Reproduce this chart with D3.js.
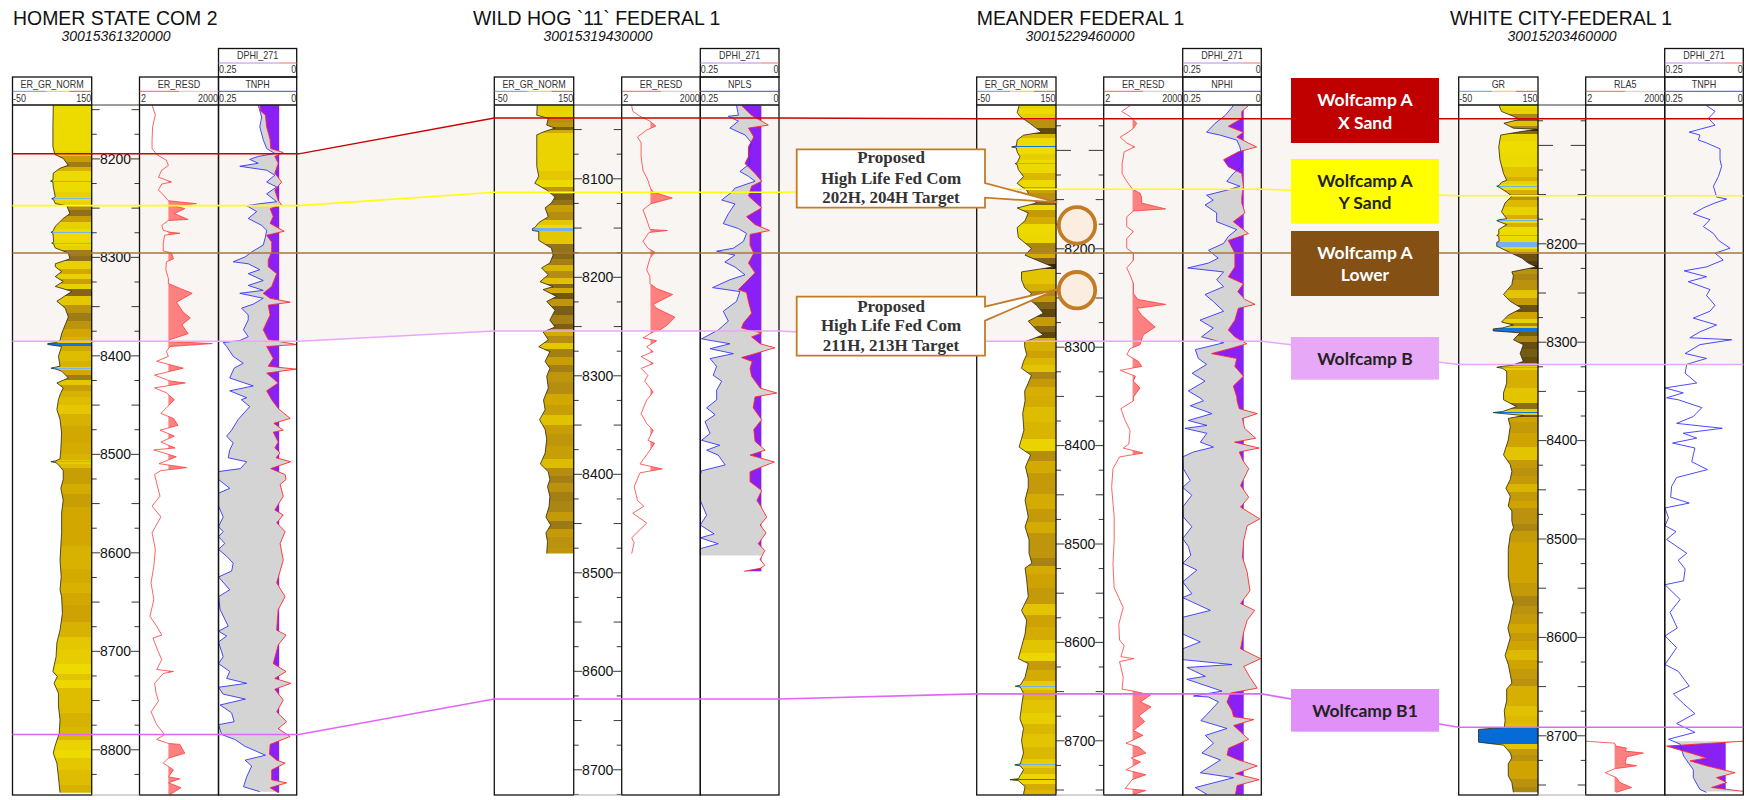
<!DOCTYPE html>
<html><head><meta charset="utf-8">
<script src="https://cdn.jsdelivr.net/npm/d3@7/dist/d3.min.js"></script>
<style>html,body{margin:0;padding:0;background:#fff}svg{display:block}text{font-family:"Liberation Sans",Arial,sans-serif}</style>
</head><body><div id="chart"></div>
<script>
// ---------- DATA (depth ft) ----------
const wellNames=["HOMER STATE COM 2","WILD HOG `11` FEDERAL 1","MEANDER FEDERAL 1","WHITE CITY-FEDERAL 1"];
const wellApis=["30015361320000","30015319430000","30015229460000","30015203460000"];
const grLabels=["ER_GR_NORM","ER_GR_NORM","ER_GR_NORM","GR"];
const resLabels=["ER_RESD","ER_RESD","ER_RESD","RLA5"];
const neuLabels=["TNPH","NPLS","NPHI","TNPH"];
const depLabel="DPHI_271";
const firstDepthLabel=[8200,8100,8200,8200];
const horizonNames=["Wolfcamp A X Sand","Wolfcamp A Y Sand","Wolfcamp A Lower","Wolfcamp B","Wolfcamp B1"];
const xSandTops=[8195.4,8038.8,8068.4,8073.5];
const ySandTops=[8248,8114.2,8140,8151.7];
const lowerTops=[8296,8175.8,8204.8,8209.8];
const bTops=[8385.6,8255,8294.4,8323.2];
const b1Tops=[8785,8628.6,8652.8,8691.8];

const homerGR=[[8146,53],[8168,52],[8188,52],[8196,57],[8200,78],[8207,91],[8210,70],[8215,53],[8222,52],[8223,46],[8224,52],[8229,53],[8239,58],[8240,54],[8241,49],[8242,54],[8246,58],[8248,87],[8256,95],[8261,78],[8269,58],[8274,52],[8275,47],[8276,52],[8280,53],[8285,54],[8286,49],[8287,54],[8291,58],[8296,91],[8302,95],[8307,58],[8310,58],[8315,74],[8320,58],[8325,78],[8330,58],[8335,100],[8345,62],[8352,83],[8361,91],[8369,83],[8378,74],[8385,70],[8387,60],[8388,39],[8389,39],[8391,74],[8401,66],[8411,70],[8412,58],[8413,47],[8414,60],[8416,74],[8423,91],[8428,62],[8433,78],[8440,70],[8445,66],[8455,62],[8465,70],[8479,74],[8496,72],[8505,70],[8507,60],[8508,47],[8509,60],[8511,66],[8517,78],[8526,78],[8535,72],[8547,78],[8560,74],[8580,74],[8608,70],[8625,73],[8638,70],[8645,74],[8662,76],[8679,70],[8692,62],[8706,60],[8721,52],[8726,63],[8733,55],[8743,66],[8756,66],[8770,70],[8784,68],[8797,57],[8804,53],[8814,62],[8828,66],[8844,70]];
const homerRES=[[8146,6],[8156,8],[8168,6.3],[8181,6],[8190,6],[8196,9],[8202,21],[8207,25],[8212,14],[8219,10.5],[8224,33],[8226,14],[8232,10.5],[8237,16],[8243,25],[8246,290],[8248,39],[8251,105],[8256,42],[8262,140],[8263,25],[8268,14],[8273,16],[8275,29],[8276,68],[8278,18],[8286,16],[8294,16],[8296,33],[8302,39],[8305,21],[8313,20],[8322,25],[8327,25],[8332,68],[8337,200],[8346,51],[8356,90],[8362,170],[8369,82],[8378,140],[8384,29],[8386,25],[8388,1160],[8391,29],[8396,21],[8401,25],[8406,9],[8413,92],[8420,7.4],[8426,29],[8428,110],[8433,7.5],[8438,21],[8445,42],[8459,13],[8464,39],[8471,58],[8476,12],[8482,42],[8488,13],[8494,45],[8496,7],[8503,50],[8510,11],[8514,124],[8517,13],[8521,7.5],[8530,9],[8543,12],[8553,6],[8564,13],[8580,6],[8597,8],[8614,7],[8631,5.5],[8648,7],[8665,5],[8675,9],[8684,14],[8687,6.5],[8697,9],[8709,14],[8719,9],[8721,39],[8723,16],[8733,7.5],[8743,8.5],[8751,10.5],[8762,5.5],[8775,9],[8785,18],[8790,9],[8794,25],[8795,68],[8804,105],[8809,25],[8814,16],[8821,39],[8828,25],[8830,68],[8834,25],[8839,75],[8846,29]];
const homerNEU=[[8146,.123],[8158,.112],[8168,.118],[8181,.107],[8190,.096],[8195,.07],[8198,.123],[8201,.15],[8205,.123],[8208,.182],[8212,.096],[8217,.07],[8224,.096],[8229,.064],[8236,.096],[8244,.064],[8246,.118],[8248,.16],[8254,.128],[8261,.155],[8268,.112],[8273,.096],[8280,.1],[8288,.107],[8295,.144],[8300,.165],[8305,.203],[8307,.155],[8313,.118],[8317,.155],[8324,.107],[8329,.155],[8334,.107],[8337,.182],[8342,.107],[8348,.139],[8352,.176],[8359,.155],[8364,.155],[8374,.17],[8381,.155],[8385,.182],[8387,.235],[8391,.224],[8401,.203],[8408,.171],[8413,.2],[8423,.214],[8431,.139],[8436,.214],[8443,.16],[8445,.177],[8452,.15],[8465,.187],[8476,.208],[8482,.224],[8489,.203],[8496,.214],[8504,.219],[8508,.16],[8515,.18],[8518,.25],[8526,.25],[8535,.214],[8540,.25],[8553,.25],[8564,.235],[8574,.25],[8579,.235],[8584,.25],[8591,.23],[8597,.25],[8604,.224],[8611,.203],[8619,.208],[8625,.25],[8638,.214],[8645,.25],[8658,.245],[8675,.219],[8680,.25],[8685,.224],[8691,.25],[8706,.235],[8713,.25],[8721,.214],[8728,.224],[8733,.16],[8737,.25],[8744,.235],[8749,.164],[8755,.245],[8763,.208],[8772,.2],[8775,.25],[8785,.24],[8790,.198],[8797,.165],[8806,.1],[8811,.165],[8817,.144],[8828,.16],[8838,.17],[8843,.118]];
const homerDEN=[[8146,.118],[8152,.115],[8156,.1],[8168,.096],[8181,.085],[8190,.083],[8194,.043],[8198,.07],[8205,.059],[8215,.07],[8224,.048],[8232,.07],[8243,.059],[8247,.048],[8251,.085],[8259,.075],[8266,.085],[8274,.04],[8278,.096],[8285,.08],[8295,.08],[8303,.091],[8310,.091],[8317,.064],[8330,.08],[8337,.107],[8342,.085],[8346,.021],[8349,.091],[8359,.085],[8374,.107],[8384,.091],[8389,0],[8391,.096],[8403,.075],[8411,.091],[8414,.002],[8418,.096],[8428,.059],[8436,.096],[8445,.08],[8454,.059],[8464,.021],[8469,.073],[8476,.043],[8478,.075],[8488,.059],[8494,.07],[8499,.053],[8504,.066],[8508,.019],[8515,.083],[8521,.037],[8526,.034],[8531,.053],[8543,.043],[8557,.07],[8562,.043],[8570,.064],[8579,.037],[8591,.053],[8608,.043],[8631,.064],[8645,.037],[8658,.059],[8679,.064],[8684,.034],[8694,.059],[8713,.075],[8721,.034],[8728,.07],[8733,.019],[8739,.07],[8750,.043],[8762,.064],[8772,.032],[8779,.059],[8787,.021],[8795,.085],[8805,.087],[8811,.064],[8814,.037],[8821,.08],[8831,.08],[8834,.032],[8839,.085],[8844,.059]];

const wildGR=[[8026,58],[8036,57],[8039,86],[8046,82],[8049,103],[8053,73],[8056,57],[8075,57],[8088,57],[8098,62],[8105,52],[8112,82],[8119,103],[8125,94],[8130,78],[8139,86],[8145,62],[8150,52],[8151,46],[8153,46],[8154,62],[8163,62],[8171,94],[8178,98],[8186,90],[8191,69],[8198,86],[8205,65],[8210,98],[8213,73],[8220,107],[8225,82],[8234,103],[8244,90],[8251,103],[8256,73],[8264,86],[8271,62],[8276,90],[8286,78],[8293,90],[8301,82],[8313,86],[8325,74],[8335,78],[8345,64],[8355,78],[8365,82],[8379,78],[8390,66],[8398,86],[8406,90],[8413,84],[8423,90],[8433,88],[8444,80],[8452,92],[8460,80],[8469,84],[8481,82]];
const wildRES=[[8026,4.8],[8032,5.3],[8037,10],[8042,24],[8047,40],[8051,18],[8058,8],[8064,11],[8078,11],[8092,13],[8102,20],[8110,25],[8114,32],[8120,170],[8126,25],[8132,13],[8142,18],[8152,24],[8153,110],[8155,22],[8164,13],[8171,20],[8175,37],[8181,24],[8193,18],[8200,24],[8207,24],[8212,43],[8218,175],[8228,32],[8232,43],[8241,215],[8249,110],[8254,58],[8256,32],[8262,13],[8265,43],[8271,18],[8276,32],[8281,11],[8288,32],[8293,11],[8300,20],[8306,15],[8317,32],[8325,18],[8339,11],[8349,18],[8356,32],[8366,20],[8369,36],[8379,20],[8390,10],[8395,70],[8399,10],[8413,6],[8427,8],[8433,14],[8440,5.3],[8450,18],[8465,4.8],[8470,6],[8481,4.8]];
const wildNEU=[[8026,.135],[8036,.129],[8037,.161],[8042,.129],[8049,.156],[8056,.108],[8064,.087],[8075,.097],[8085,.092],[8093,.124],[8098,.097],[8103,.076],[8110,.14],[8114,.15],[8122,.182],[8126,.14],[8136,.161],[8146,.177],[8151,.129],[8156,.103],[8164,.113],[8171,.145],[8174,.198],[8178,.14],[8185,.172],[8190,.14],[8198,.108],[8203,.156],[8211,.211],[8215,.124],[8225,.135],[8235,.177],[8245,.161],[8254,.193],[8263,.246],[8268,.156],[8273,.219],[8278,.145],[8283,.219],[8291,.198],[8300,.209],[8306,.182],[8315,.198],[8325,.198],[8333,.23],[8340,.203],[8347,.235],[8359,.219],[8366,.246],[8371,.188],[8376,.23],[8381,.193],[8391,.171],[8397,.246],[8401,.25],[8427,.25],[8442,.23],[8452,.25],[8461,.206],[8465,.25],[8471,.193],[8476,.25],[8483,.25]];
const wildDEN=[[8026,.119],[8036,.087],[8046,.034],[8049,.097],[8058,.08],[8068,.097],[8078,.097],[8085,.108],[8095,.076],[8103,.055],[8108,.087],[8118,.097],[8130,.055],[8139,.103],[8147,.076],[8153,.03],[8157,.092],[8168,.092],[8176,.08],[8186,.097],[8196,.076],[8213,.129],[8216,.103],[8225,.097],[8237,.087],[8247,.113],[8252,.119],[8257,.055],[8261,.087],[8268,.06],[8272,.013],[8278,.076],[8282,.119],[8286,.085],[8293,.092],[8301,.087],[8313,.06],[8318,.007],[8322,.076],[8333,.082],[8345,.055],[8355,.08],[8367,.076],[8376,.044],[8381,.092],[8388,.015],[8393,.055],[8398,.092],[8408,.092],[8417,.055],[8427,.07],[8433,.058],[8444,.039],[8452,.06],[8460,.041],[8471,.066],[8478,.045],[8487,.06],[8493,.045],[8496,.06],[8499,.111]];

const meanderGR=[[8055,57],[8062,52],[8066,59],[8073,84],[8082,114],[8085,68],[8090,52],[8096,50],[8097,38],[8098,50],[8102,52],[8107,59],[8113,52],[8114,47],[8115,52],[8120,55],[8127,68],[8134,52],[8141,76],[8147,84],[8154,101],[8159,52],[8164,80],[8172,72],[8179,52],[8189,55],[8200,88],[8207,72],[8212,101],[8219,143],[8224,63],[8232,63],[8240,71],[8246,88],[8251,80],[8258,101],[8266,118],[8274,80],[8283,101],[8288,118],[8295,71],[8300,71],[8308,76],[8315,68],[8322,63],[8329,88],[8337,80],[8345,71],[8355,72],[8368,66],[8385,69],[8402,57],[8410,86],[8422,73],[8434,80],[8443,80],[8456,72],[8473,80],[8483,72],[8496,82],[8510,82],[8520,89],[8525,72],[8537,76],[8554,80],[8568,63],[8578,76],[8592,72],[8605,63],[8617,55],[8622,80],[8636,72],[8644,60],[8645,47],[8646,60],[8652,68],[8666,63],[8678,59],[8688,68],[8700,63],[8713,68],[8724,60],[8725,46],[8726,60],[8730,68],[8739,55],[8740,34],[8741,55],[8747,72],[8755,68]];
const meanderRES=[[8055,20],[8061,9.6],[8066,20],[8073,36],[8078,27],[8082,17],[8087,8.5],[8093,15],[8097,30],[8102,12],[8114,10],[8124,10],[8132,15],[8140,25],[8144,48],[8148,55],[8154,55],[8160,450],[8162,27],[8168,15],[8178,15],[8183,27],[8190,15],[8200,15],[8205,27],[8212,27],[8220,15],[8227,20],[8236,27],[8246,27],[8252,40],[8257,450],[8261,36],[8268,55],[8280,180],[8288,63],[8298,48],[8302,20],[8308,15],[8315,42],[8320,55],[8324,8.5],[8330,32],[8335,27],[8342,48],[8351,27],[8355,27],[8363,9],[8375,13],[8385,20],[8399,18],[8403,11],[8408,62],[8412,8],[8424,4.5],[8443,4],[8473,5],[8497,5],[8521,4.5],[8545,5],[8565,11],[8582,7.5],[8598,8],[8604,12],[8615,9],[8617,28],[8620,8],[8636,11],[8648,10],[8650,27],[8654,120],[8661,50],[8666,125],[8675,44],[8681,72],[8690,27],[8695,62],[8703,14],[8707,44],[8713,80],[8718,22],[8722,50],[8730,14],[8735,80],[8740,24],[8749,13],[8751,80],[8755,27]];
const meanderNEU=[[8055,.089],[8065,.115],[8073,.147],[8082,.174],[8085,.131],[8090,.078],[8097,.068],[8107,.062],[8117,.062],[8124,.089],[8132,.11],[8137,.068],[8141,.11],[8146,.174],[8151,.153],[8156,.179],[8164,.142],[8173,.142],[8181,.078],[8188,.105],[8195,.12],[8202,.168],[8210,.137],[8215,.168],[8220,.234],[8224,.12],[8232,.142],[8239,.12],[8247,.179],[8254,.153],[8264,.12],[8273,.195],[8281,.153],[8290,.19],[8296,.12],[8303,.21],[8312,.2],[8318,.174],[8327,.22],[8335,.179],[8345,.232],[8352,.195],[8355,.184],[8360,.226],[8368,.157],[8375,.232],[8380,.173],[8383,.243],[8388,.173],[8397,.194],[8402,.152],[8407,.216],[8412,.25],[8424,.248],[8436,.226],[8443,.25],[8451,.221],[8463,.25],[8473,.248],[8483,.221],[8495,.25],[8503,.232],[8512,.224],[8520,.25],[8527,.205],[8539,.25],[8551,.221],[8555,.25],[8568,.162],[8575,.25],[8592,.25],[8600,.194],[8607,.25],[8618,.25],[8623,.093],[8626,.237],[8635,.178],[8638,.237],[8650,.125],[8655,.216],[8656,.168],[8661,.136],[8670,.162],[8680,.192],[8688,.109],[8695,.178],[8703,.152],[8713,.189],[8720,.13],[8733,.194],[8738,.088],[8748,.21],[8755,.173]];
const meanderDEN=[[8055,.041],[8061,.062],[8068,.062],[8076,.105],[8082,.057],[8087,.078],[8093,.041],[8097,.015],[8102,.073],[8110,.12],[8117,.105],[8124,.062],[8137,.057],[8148,.062],[8154,.062],[8164,.052],[8173,.089],[8185,.041],[8192,.105],[8205,.084],[8219,.084],[8229,.105],[8236,.057],[8244,.075],[8252,.052],[8257,.02],[8261,.073],[8273,.084],[8283,.105],[8290,.084],[8297,.046],[8302,.1],[8307,.158],[8312,.078],[8320,.084],[8330,.057],[8340,.089],[8351,.078],[8355,.077],[8363,.07],[8368,.013],[8373,.06],[8383,.053],[8393,.018],[8397,.085],[8403,.007],[8407,.07],[8416,.058],[8424,.04],[8441,.066],[8453,.04],[8463,.066],[8475,.005],[8482,.045],[8497,.056],[8514,.06],[8529,.045],[8548,.036],[8561,.066],[8568,.021],[8578,.045],[8590,.056],[8607,.066],[8617,.002],[8625,.056],[8637,.034],[8647,.013],[8652,.098],[8661,.109],[8670,.093],[8676,.088],[8679,.024],[8685,.088],[8699,.04],[8708,.104],[8715,.109],[8720,.072],[8726,.013],[8734,.082],[8740,.007],[8746,.077],[8755,.082]];

const whiteGR=[[8060,52],[8066,58],[8071,88],[8074,104],[8078,64],[8083,88],[8084,146],[8087,100],[8090,56],[8102,51],[8115,54],[8129,63],[8136,71],[8138,58],[8141,52],[8142,46],[8143,52],[8148,71],[8152,84],[8159,67],[8168,58],[8175,71],[8176,52],[8177,46],[8178,52],[8181,71],[8186,51],[8191,51],[8192,46],[8193,51],[8198,52],[8199,46],[8203,46],[8204,52],[8207,67],[8215,109],[8220,125],[8224,146],[8229,84],[8233,88],[8242,84],[8252,63],[8259,80],[8266,109],[8273,75],[8280,58],[8283,88],[8286,60],[8287,37],[8289,37],[8291,105],[8298,88],[8303,113],[8312,105],[8320,113],[8324,84],[8325,60],[8326,46],[8327,60],[8330,71],[8342,71],[8352,63],[8359,63],[8366,96],[8371,60],[8372,37],[8373,60],[8375,113],[8378,75],[8386,80],[8400,75],[8415,63],[8425,80],[8432,84],[8440,80],[8449,69],[8457,80],[8467,75],[8472,84],[8482,84],[8489,88],[8496,80],[8511,75],[8524,75],[8538,75],[8552,80],[8565,88],[8572,84],[8582,80],[8591,74],[8601,80],[8608,75],[8619,67],[8628,75],[8638,80],[8647,84],[8653,71],[8665,71],[8675,65],[8685,67],[8692,65],[8694,0],[8707,0],[8710,63],[8718,80],[8723,84],[8729,75],[8741,75],[8748,84],[8758,88]];
const whiteRES=[[8706,2],[8708,25],[8711,28],[8713,71],[8716,63],[8718,310],[8722,71],[8729,63],[8731,170],[8734,25],[8738,11],[8743,29],[8748,40],[8753,110],[8758,29]];
const whiteNEU=[[8060,.117],[8066,.09],[8073,.111],[8080,.09],[8087,.172],[8090,.138],[8095,.143],[8098,.117],[8104,.074],[8115,.074],[8122,.069],[8132,.079],[8142,.095],[8153,.085],[8155,.053],[8159,.09],[8164,.127],[8170,.159],[8176,.106],[8183,.127],[8190,.095],[8197,.079],[8205,.042],[8210,.09],[8217,.064],[8224,.117],[8228,.188],[8234,.117],[8239,.175],[8247,.106],[8253,.117],[8263,.09],[8269,.106],[8276,.159],[8283,.085],[8290,.138],[8296,.17],[8298,.037],[8303,.138],[8312,.185],[8317,.117],[8323,.18],[8332,.185],[8342,.148],[8347,.249],[8352,.191],[8357,.244],[8359,.207],[8367,.132],[8376,.159],[8383,.212],[8388,.067],[8393,.191],[8398,.148],[8403,.225],[8408,.154],[8422,.164],[8430,.114],[8438,.212],[8447,.228],[8458,.231],[8464,.172],[8469,.249],[8479,.238],[8487,.249],[8493,.214],[8501,.244],[8515,.18],[8522,.207],[8531,.185],[8543,.19],[8547,.249],[8562,.201],[8575,.233],[8591,.21],[8599,.249],[8611,.212],[8628,.249],[8635,.207],[8650,.172],[8658,.222],[8668,.19],[8678,.154],[8688,.212],[8697,.154],[8704,.238],[8709,.201],[8721,.19],[8735,.159],[8743,.159],[8755,.138],[8758,.117]];
const whiteDEN=[[8706,0],[8711,.244],[8718,.169],[8723,.117],[8726,.169],[8731,.117],[8738,.026],[8743,.085],[8748,.053],[8753,.101],[8757,0]];

const grCurves=[homerGR,wildGR,meanderGR,whiteGR];
const resCurves=[homerRES,wildRES,meanderRES,whiteRES];
const neuCurves=[homerNEU,wildNEU,meanderNEU,whiteNEU];
const denCurves=[homerDEN,wildDEN,meanderDEN,whiteDEN];

const legendLines=[["Wolfcamp A","X Sand"],["Wolfcamp A","Y Sand"],["Wolfcamp A","Lower"],["Wolfcamp B"],["Wolfcamp B1"]];
const calloutLines=[["Proposed","High Life Fed Com","202H, 204H Target"],["Proposed","High Life Fed Com","211H, 213H Target"]];

// ---------- LAYOUT ----------
const W=1749,H=800,T0=105,TB=795,HT=77,HTOP=48.5;
const layout=[
 {gl:12.5,gr:91.7,rl:139.5,rr:218.5,pr:296.7,d:[8200,8800],py:[158.4,749.3]},
 {gl:494.3,gr:573.7,rl:621.7,rr:700.3,pr:779,d:[8100,8700],py:[178.3,769.3]},
 {gl:976.7,gr:1056,rl:1103.7,rr:1182.7,pr:1261.3,d:[8200,8700],py:[248.3,740.3]},
 {gl:1458.7,gr:1538,rl:1585.7,rr:1664.7,pr:1743.3,d:[8200,8700],py:[243.3,735.3]}
];
const titleX=[13,473,976.7,1450], apiX=[116,598,1080,1562];
const horizons=[
 {tops:xSandTops,c:"#cc0000",w:1.5},{tops:ySandTops,c:"#ffff10",w:1.6},
 {tops:lowerTops,c:"#a87838",w:1.6},{tops:bTops,c:"#e8a8f8",w:1.6},{tops:b1Tops,c:"#e066f8",w:1.6}];
const svg=d3.select("#chart").append("svg").attr("width",W).attr("height",H).attr("viewBox",`0 0 ${W} ${H}`);
const defs=svg.append("defs");
const grColor=d3.scaleLinear()
 .domain([-50,30,41,42,49.9,50,55,65,75,85,95,110,150])
 .range(["#0064c8","#0a6ee0","#1478e0","#64aaf0","#80b8ea","#eedd00","#ecd800","#e0c000","#cfa400","#b89010","#8f7018","#6a5010","#302000"]);
layout.forEach(l=>{
 l.y=d3.scaleLinear().domain(l.d).range(l.py);
 l.xG=d3.scaleLinear().domain([-50,150]).range([l.gl,l.gr]);
 l.xR=d3.scaleLog().domain([2,2000]).range([l.rl,l.rr]);
 l.xP=d3.scaleLinear().domain([.25,0]).range([l.rr,l.pr]);
});
// background band between the X Sand and Wolfcamp B tops
const edge=(l,i)=>i===0?[l.gl,l.pr+2]:[l.gl,l.pr];
const bandPts=[];
layout.forEach((l,i)=>edge(l,i).forEach(x=>bandPts.push({x,y0:l.y(xSandTops[i]),y1:l.y(bTops[i])})));
svg.append("path").attr("d",d3.area().x(p=>p.x).y0(p=>p.y0).y1(p=>p.y1)(bandPts)).attr("fill","#f9f5f2");

let uid=0;
function clipArea(pathD,parent){
 const id="c"+(uid++);
 defs.append("clipPath").attr("id",id).append("path").attr("d",pathD);
 return parent.append("g").attr("clip-path",`url(#${id})`);
}
layout.forEach((l,i)=>{
 const g=svg.append("g");
 const y=l.y;
 const tr=g.append("g");
 const grD=grCurves[i],resD=resCurves[i],neuD=neuCurves[i],denD=denCurves[i];
 // GR fill, coloured band by band
 const gid="g"+i,y0=y(grD[0][0]),y1=y(grD[grD.length-1][0]);
 const gr=defs.append("linearGradient").attr("id",gid).attr("gradientUnits","userSpaceOnUse")
   .attr("x1",0).attr("x2",0).attr("y1",y0).attr("y2",y1);
 grD.forEach((p,k)=>{
  const a=k?(y(grD[k-1][0])+y(p[0]))/2:y0, b=k<grD.length-1?(y(grD[k+1][0])+y(p[0]))/2:y1;
  const c=grColor(p[1]);
  gr.append("stop").attr("offset",(a-y0)/(y1-y0)).attr("stop-color",c);
  gr.append("stop").attr("offset",(b-y0)/(y1-y0)).attr("stop-color",c);
 });
 tr.append("path").attr("d",d3.area().x0(p=>l.xG(p[1])).x1(l.gr).y(p=>y(p[0]))(grD)).attr("fill",`url(#${gid})`);
 tr.append("path").attr("d",d3.line().x(p=>l.xG(p[1])).y(p=>y(p[0]))(grD)).attr("fill","none").attr("stroke","#2a2410").attr("stroke-width",.8);
 // resistivity fill above 25 ohm-m
 const resCut=25, leftOfRes=d3.area().x0(l.rl).x1(p=>l.xR(p[1])).y(p=>y(p[0]))(resD);
 const resTop=y(resD[0][0]),resBot=y(resD[resD.length-1][0]);
 clipArea(leftOfRes,tr).append("rect").attr("x",l.xR(resCut)).attr("width",l.rr-l.xR(resCut)).attr("y",resTop).attr("height",resBot-resTop).attr("fill","#ff8080");
 tr.append("path").attr("d",d3.line().x(p=>l.xR(p[1])).y(p=>y(p[0]))(resD)).attr("fill","none").attr("stroke","#ff3c3c").attr("stroke-width",.8);
 // porosity: grey where neutron reads above density, purple where density reads above the cutoff
 const phiCut=.056;
 const rightOfNeu=d3.area().x0(p=>l.xP(p[1])).x1(l.pr).y(p=>y(p[0]))(neuD);
 const leftOfDen=d3.area().x0(l.rr).x1(p=>l.xP(p[1])).y(p=>y(p[0]))(denD);
 const rightOfDen=d3.area().x0(p=>l.xP(p[1])).x1(l.pr).y(p=>y(p[0]))(denD);
 clipArea(leftOfDen,clipArea(rightOfNeu,tr)).append("rect").attr("x",l.rr).attr("width",l.pr-l.rr).attr("y",T0).attr("height",TB-T0).attr("fill","#d4d4d4");
 clipArea(rightOfDen,tr).append("rect").attr("x",l.rr).attr("width",l.xP(phiCut)-l.rr).attr("y",T0).attr("height",TB-T0).attr("fill","#8a20f4");
 tr.append("path").attr("d",d3.line().x(p=>l.xP(p[1])).y(p=>y(p[0]))(neuD)).attr("fill","none").attr("stroke","#2a2aff").attr("stroke-width",.85);
 tr.append("path").attr("d",d3.line().x(p=>l.xP(p[1])).y(p=>y(p[0]))(denD)).attr("fill","none").attr("stroke","#ff2020").attr("stroke-width",.85);

 // depth ticks through d3 axes
 const d0=Math.ceil(y.invert(T0+3)/25)*25,d1=Math.floor(y.invert(TB-1)/25)*25;
 const all=d3.range(d0,d1+1,25);
 const hundreds=all.filter(d=>d%100===0);
 const labelled=hundreds.filter(d=>d>=firstDepthLabel[i]);
 const unlabelled=hundreds.filter(d=>d<firstDepthLabel[i]);
 const tickSets=[[all.filter(d=>d%50),5],[all.filter(d=>d%50===0&&d%100),8],[labelled,8.5],[unlabelled,15]];
 tickSets.forEach(([vals,len])=>{
  const a=g.append("g").attr("transform",`translate(${l.gr},0)`).call(d3.axisRight(y).tickValues(vals).tickSize(len).tickFormat(""));
  const b=g.append("g").attr("transform",`translate(${l.rl},0)`).call(d3.axisLeft(y).tickValues(vals).tickSize(len).tickFormat(""));
  [a,b].forEach(s=>{s.select(".domain").remove();s.selectAll("line").attr("stroke","#222").attr("stroke-width",.9);});
 });
 const mid=(l.gr+l.rl)/2;
 g.selectAll(null).data(labelled).join("text").attr("x",mid).attr("y",d=>y(d)+5.2)
  .attr("text-anchor","middle").attr("font-size",14).attr("fill","#111").text(d=>d);

 // header frames
 const frame=g.append("g").attr("fill","none").attr("stroke","#111").attr("stroke-width",1.3);
 frame.append("rect").attr("x",l.gl).attr("y",HT).attr("width",l.gr-l.gl).attr("height",TB-HT);
 frame.append("rect").attr("x",l.rl).attr("y",HT).attr("width",l.rr-l.rl).attr("height",TB-HT);
 frame.append("rect").attr("x",l.rr).attr("y",HT).attr("width",l.pr-l.rr).attr("height",TB-HT);
 frame.append("rect").attr("x",l.rr).attr("y",HTOP).attr("width",l.pr-l.rr).attr("height",HT-HTOP);
 [[l.gl,l.gr],[l.rl,l.rr],[l.rr,l.pr]].forEach(([a,b])=>frame.append("line").attr("x1",a).attr("x2",b).attr("y1",T0).attr("y2",T0));
 g.append("line").attr("x1",l.gr).attr("x2",l.rl).attr("y1",T0).attr("y2",T0).attr("stroke","#222").attr("stroke-width",.9);
 g.append("line").attr("x1",l.gr).attr("x2",l.rl).attr("y1",TB).attr("y2",TB).attr("stroke","#aaa").attr("stroke-width",1.2);
 const sep=(a,b,yy,c)=>g.append("line").attr("x1",a).attr("x2",b).attr("y1",yy).attr("y2",yy).attr("stroke",c).attr("stroke-width",.9);
 const tw=l.gr-l.gl;
 sep(l.gl,l.gl+tw*.42,91.3,"#4a90e0");sep(l.gl+tw*.42,l.gl+tw*.72,91.3,"#e8d000");sep(l.gl+tw*.72,l.gr,91.3,"#8a6a10");
 sep(l.rl,l.rl+tw*.5,91.3,"#f05050");sep(l.rl+tw*.5,l.rr,91.3,"#f8b0b0");
 sep(l.rr,l.pr,91.3,"#3030e0");
 sep(l.rr,l.rr+tw*.76,63,"#b080f0");sep(l.rr+tw*.76,l.pr,63,"#f06060");
 const label=(x,yy,t,anchor)=>g.append("text").attr("transform",`translate(${x},${yy}) scale(.88,1)`).attr("font-size",10.2).attr("fill","#333").attr("text-anchor",anchor).text(t);
 label((l.gl+l.gr)/2,88,grLabels[i],"middle");
 label((l.rl+l.rr)/2,88,resLabels[i],"middle");
 label((l.rr+l.pr)/2,88,neuLabels[i],"middle");
 label((l.rr+l.pr)/2,59.3,depLabel,"middle");
 label(l.gl+.5,101.8,"-50","start");label(l.gr-.5,101.8,"150","end");
 label(l.rl+1.5,101.8,"2","start");label(l.rr-.5,101.8,"2000","end");
 label(l.rr+.5,101.8,"0.25","start");label(l.pr-.5,101.8,"0","end");
 label(l.rr+.5,73.3,"0.25","start");label(l.pr-.5,73.3,"0","end");
 // titles
 svg.append("text").attr("x",titleX[i]).attr("y",25).attr("font-size",19.45).attr("fill","#111").text(wellNames[i]);
 svg.append("text").attr("x",apiX[i]).attr("y",41).attr("font-size",14).attr("font-style","italic").attr("fill","#111").attr("text-anchor","middle").text(wellApis[i]);
});
// horizon correlation lines
const hLine=d3.line().x(p=>p[0]).y(p=>p[1]);
horizons.forEach(h=>{
 const pts=[];
 layout.forEach((l,i)=>edge(l,i).forEach(x=>pts.push([x,l.y(h.tops[i])])));
 svg.append("path").attr("d",hLine(pts)).attr("fill","none").attr("stroke",h.c).attr("stroke-width",h.w);
});
// target circles and callouts
const orange="#c47c24";
const circleDepths=[8176.7,8242.6], meander=layout[2];
svg.selectAll("circle.t").data(circleDepths).join("circle").attr("class","t")
 .attr("cx",1077).attr("cy",d=>meander.y(d)).attr("r",18.2).attr("fill","#fbeee0").attr("stroke",orange).attr("stroke-width",3.8);
const boxes=[
 {top:149.3,bot:207.7,p:[[985,183],[1057.3,202.3],[985,197.7]],base:[163,184,202.7]},
 {top:296.7,bot:355.7,p:[[985,306.7],[1057.3,289.3],[985,320.7]],base:[311.7,330.7,351]}];
boxes.forEach((b,i)=>{
 const pts=[[796.7,b.top],[985,b.top],...b.p,[985,b.bot],[796.7,b.bot]];
 svg.append("path").attr("d",hLine(pts)+"Z").attr("fill","#fff").attr("stroke",orange).attr("stroke-width",1.8);
 calloutLines[i].forEach((t,k)=>svg.append("text").attr("x",891).attr("y",b.base[k]).attr("text-anchor","middle")
  .style("font-family","'Liberation Serif',serif").attr("font-weight","bold").attr("font-size",17).attr("fill","#333").text(t));
});
// horizon legend boxes
const legend=[
 {y0:78,y1:143,c:"#c00000",t:"#fff",b:[106,129]},
 {y0:159,y1:223.7,c:"#ffff00",t:"#222",b:[187,209]},
 {y0:231,y1:296,c:"#845014",t:"#fff",b:[259,281]},
 {y0:337,y1:379.7,c:"#e8a8f8",t:"#222",b:[365]},
 {y0:689,y1:731.7,c:"#e090f8",t:"#222",b:[716.7]}];
legend.forEach((b,i)=>{
 svg.append("rect").attr("x",1291).attr("y",b.y0).attr("width",148).attr("height",b.y1-b.y0).attr("fill",b.c);
 legendLines[i].forEach((t,k)=>svg.append("text").attr("x",1365).attr("y",b.b[k]).attr("text-anchor","middle")
  .style("font-family","Lato,sans-serif").attr("font-weight","bold").attr("font-size",17.5).attr("fill",b.t).text(t));
});
</script></body></html>
